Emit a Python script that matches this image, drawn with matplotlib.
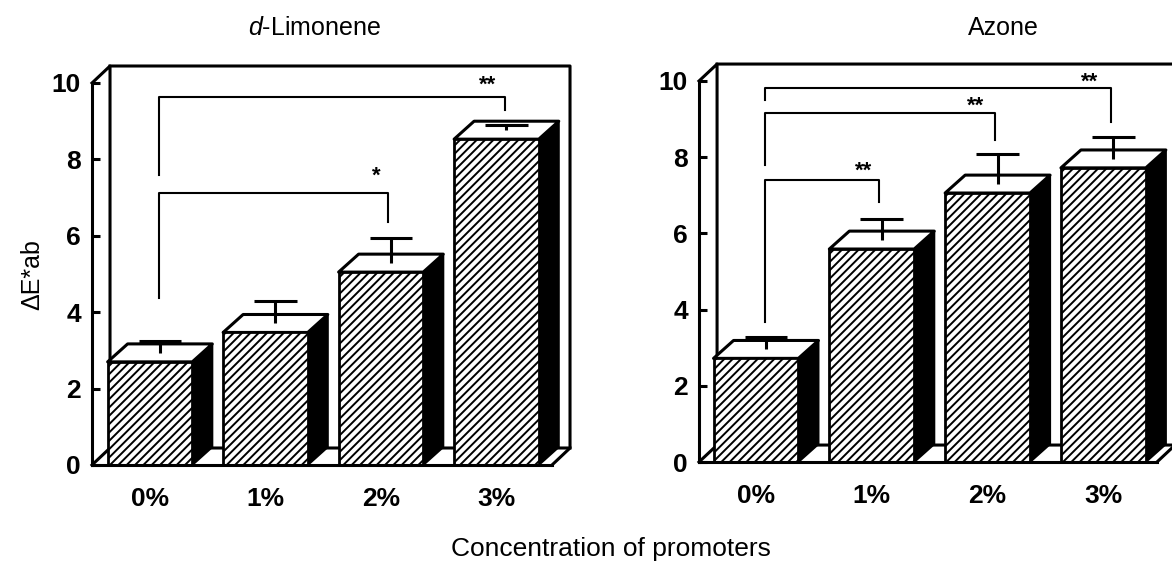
import matplotlib
matplotlib.use("Agg")
import matplotlib.pyplot as plt

plt.rcParams['font.family'] = ['Liberation Sans', 'DejaVu Sans']
plt.rcParams['mathtext.fontset'] = 'custom'
plt.rcParams['mathtext.it'] = 'Liberation Sans:italic'
plt.rcParams['mathtext.rm'] = 'Liberation Sans'
plt.rcParams['hatch.linewidth'] = 1.4
plt.rcParams['hatch.color'] = 'black'

# Data
categories = ['0%', '1%', '2%', '3%']
y_ticks = [0, 2, 4, 6, 8, 10]

limonene_values = [2.70, 3.47, 5.05, 8.53]
limonene_errors = [0.30, 0.58, 0.65, 0.13]
azone_values = [2.72, 5.59, 7.06, 7.72]
azone_errors = [0.32, 0.55, 0.79, 0.58]

# brackets: x left, x right, y top, y low left, y low right, stars, star x, star y
limonene_brackets = [
    (0.075, 3.07, 9.63, 7.59, 9.29, '**', 2.92, 9.94),
    (0.075, 2.06, 7.12, 4.37, 6.36, '*', 1.96, 7.56),
]
azone_brackets = [
    (0.078, 1.06, 7.40, 3.67, 6.82, '**', 0.93, 7.62),
    (0.078, 2.06, 9.16, 7.80, 8.45, '**', 1.90, 9.33),
    (0.078, 3.07, 9.82, 9.50, 8.92, '**', 2.88, 9.98),
]

# 3D look: depth of bars and of the walls, in data units
bar_w = 0.733
bar_dx = 0.173
bar_dy = 0.47
wall_dx = 0.156
wall_dy = 0.445
LW = 2.2

W, H = 1172, 570
fig = plt.figure(figsize=(W / 100, H / 100), dpi=100)


def draw_panel(rect, xlim, values, errors, brackets):
    ax = fig.add_axes(rect)
    ax.set_xlim(xlim)
    ax.set_ylim(0, 10)
    ax.patch.set_visible(False)
    for s in ['top', 'right']:
        ax.spines[s].set_visible(False)
    for s in ['left', 'bottom']:
        ax.spines[s].set_linewidth(LW)
        ax.spines[s].set_zorder(6)

    # back wall and floor
    x0, x1 = xlim
    ax.plot([x0, x0 + wall_dx, x0 + wall_dx], [10, 10 + wall_dy, wall_dy],
            color='k', lw=LW, clip_on=False, zorder=1)
    ax.plot([x0 + wall_dx, x1 + wall_dx, x1 + wall_dx, x1],
            [10 + wall_dy, 10 + wall_dy, wall_dy, 0],
            color='k', lw=LW, clip_on=False, zorder=1)
    ax.plot([x0, x0 + wall_dx, x1 + wall_dx], [0, wall_dy, wall_dy],
            color='k', lw=LW, clip_on=False, zorder=1)

    # brackets
    for xl, xr, top, low_l, low_r, stars, sx, sy in brackets:
        ax.plot([xl, xl, xr, xr], [low_l, top, top, low_r], color='k', lw=1.5,
                clip_on=False, zorder=2)
        ax.text(sx, sy, stars, ha='center', va='center', fontsize=16,
                fontweight='bold', clip_on=False)

    for i, (v, e) in enumerate(zip(values, errors)):
        left = i - bar_w / 2
        right = i + bar_w / 2
        ax.fill([right, right + bar_dx, right + bar_dx, right],
                [0, bar_dy, v + bar_dy, v],
                facecolor='k', edgecolor='k', lw=1.5, zorder=3, clip_on=False)
        ax.fill([left, left + bar_dx, right + bar_dx, right],
                [v, v + bar_dy, v + bar_dy, v],
                facecolor='w', edgecolor='k', lw=LW, zorder=3, clip_on=False,
                joinstyle='round')
        ax.bar(i, v, width=bar_w, facecolor='w', edgecolor='k', hatch='////',
               lw=2.0, zorder=4)
        # error bar rises from the middle of the top face
        cx = i + bar_dx / 2
        cy = v + bar_dy / 2
        ax.vlines(cx, cy, cy + e, color='k', lw=LW, zorder=5)
        ax.hlines(cy + e, cx - 0.185, cx + 0.185, color='k', lw=LW, zorder=5)

    ax.set_yticks(y_ticks)
    ax.set_xticks(range(len(categories)))
    ax.set_xticklabels(categories)
    ax.tick_params(axis='y', direction='in', length=6, width=LW, pad=8,
                   labelsize=19)
    ax.tick_params(axis='x', length=0, pad=16, labelsize=19)
    for lab in ax.get_xticklabels() + ax.get_yticklabels():
        lab.set_fontweight('bold')
    return ax


ax1 = draw_panel([92 / W, 1 - 465 / H, 460 / W, 382 / H], (-0.502, 3.481),
                 limonene_values, limonene_errors, limonene_brackets)
ax2 = draw_panel([699 / W, 1 - 462 / H, 458 / W, 381 / H], (-0.492, 3.463),
                 azone_values, azone_errors, azone_brackets)

fig.text(32 / W, 1 - 275 / H, 'ΔE*ab', rotation=90, ha='center', va='center', fontsize=18)
fig.text(314 / W, 1 - 28 / H, r'$\mathit{d}$-Limonene', ha='center', va='center', fontsize=18)
fig.text(1003 / W, 1 - 28 / H, 'Azone', ha='center', va='center', fontsize=18)
fig.text(611 / W, 1 - 549 / H, 'Concentration of promoters', ha='center', va='center', fontsize=19)

fig.savefig('out.png', dpi=100)
